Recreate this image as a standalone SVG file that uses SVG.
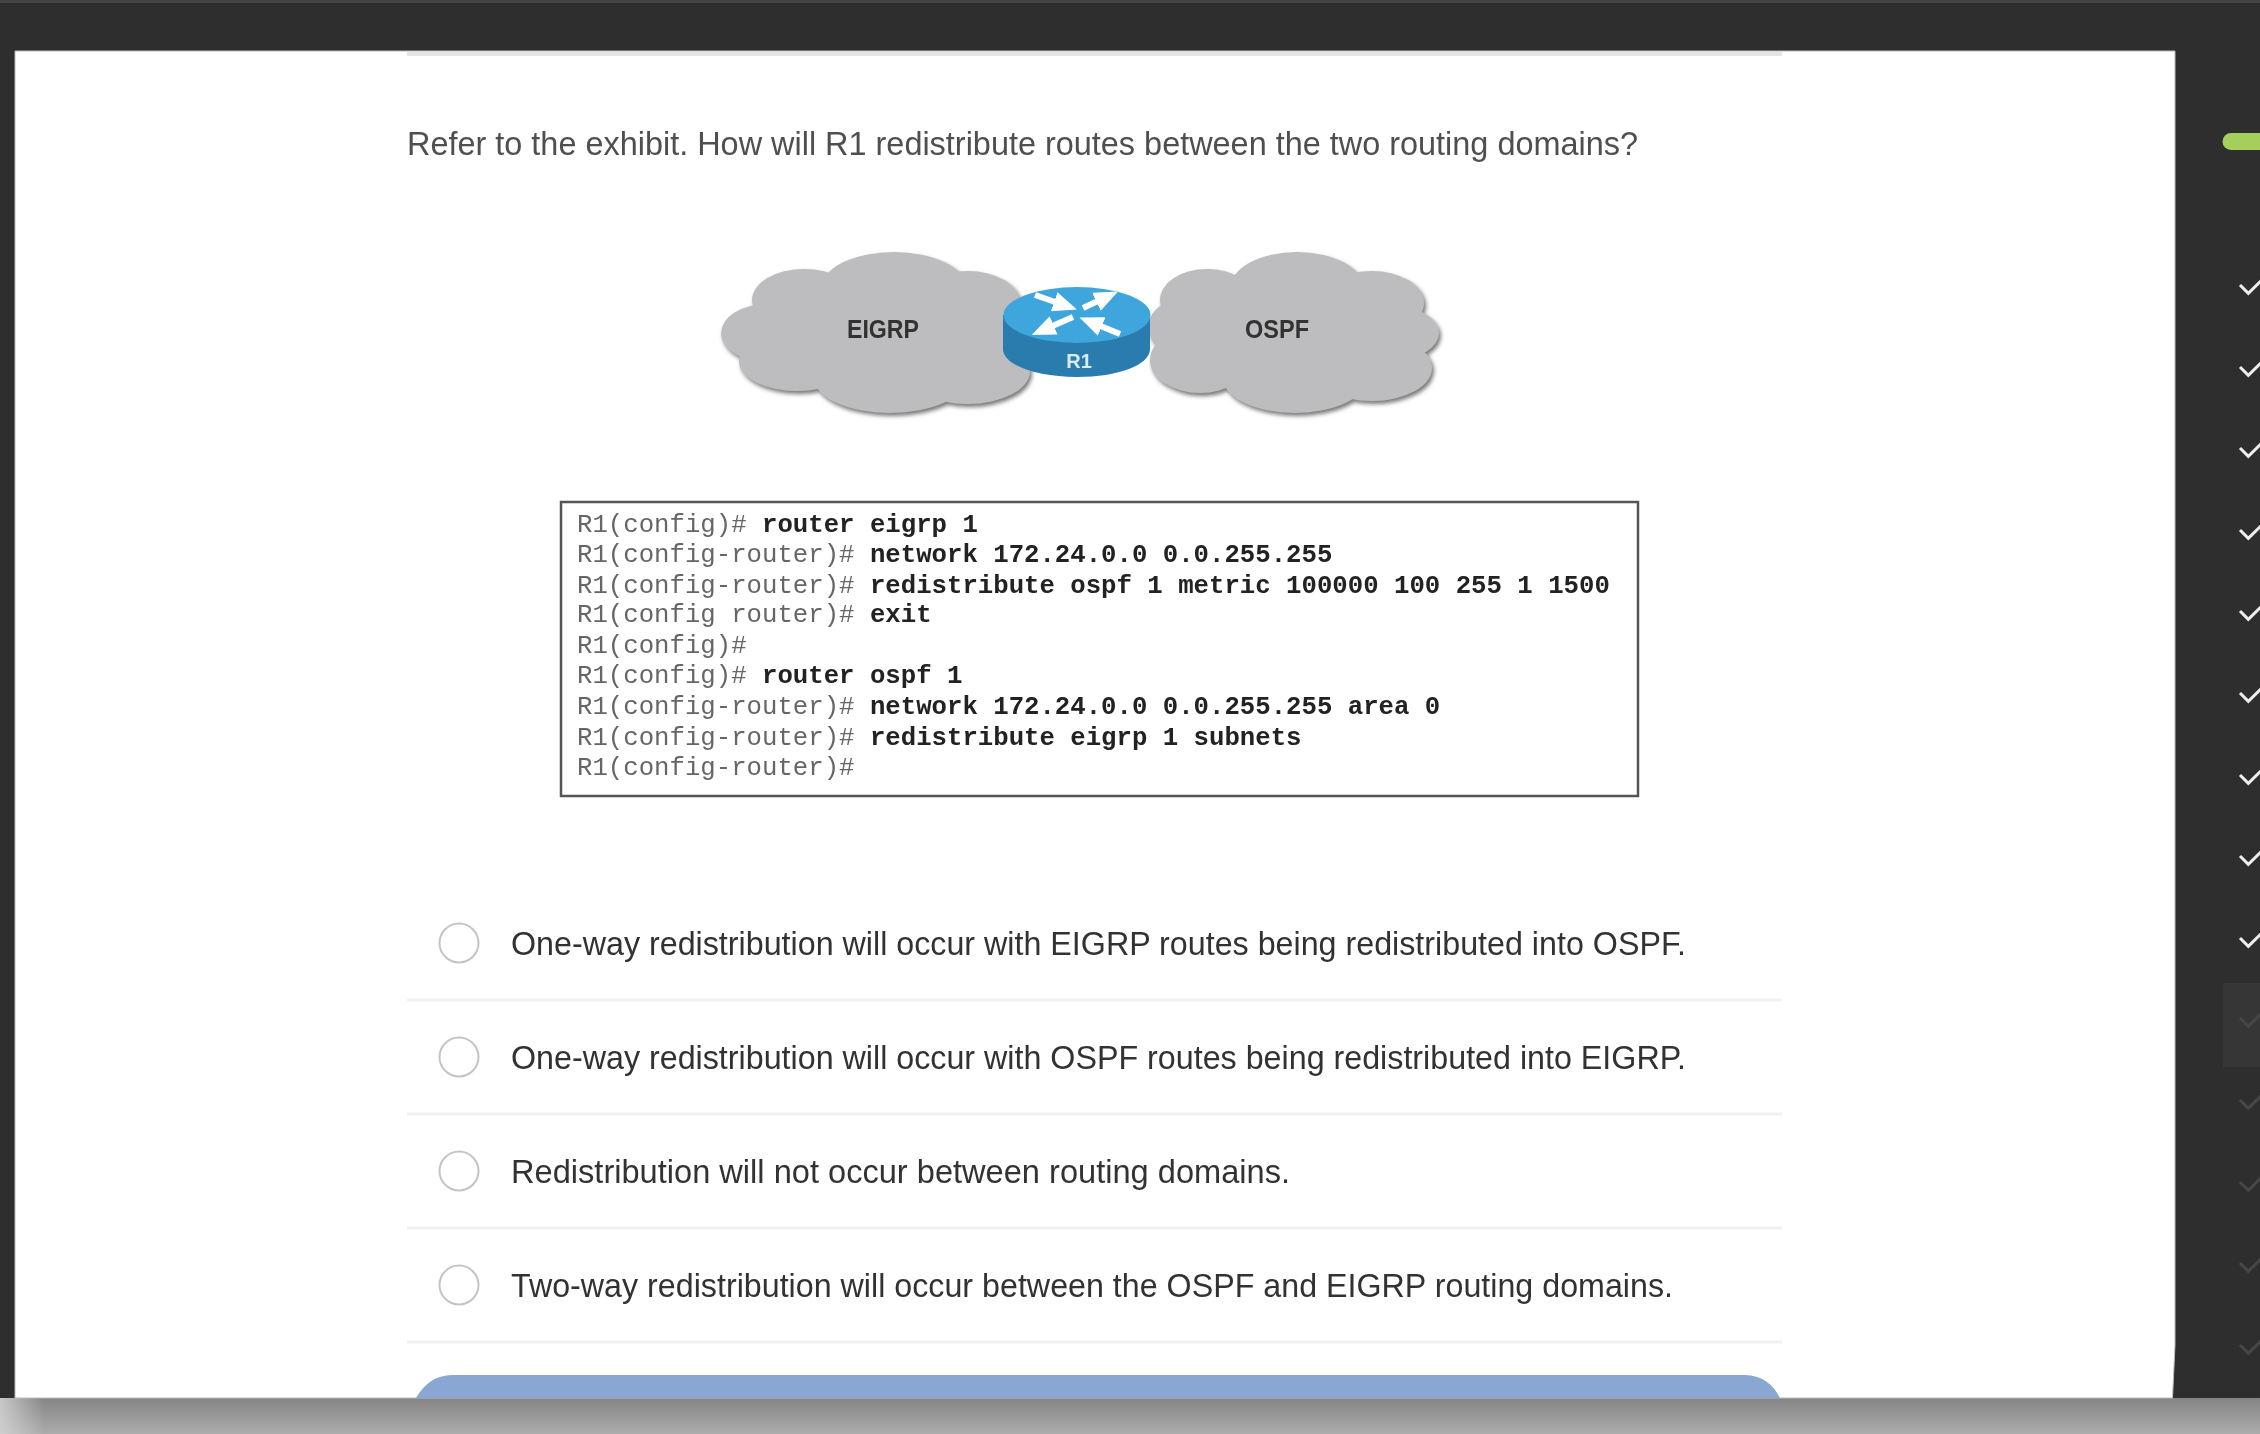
<svg xmlns="http://www.w3.org/2000/svg" width="2260" height="1434" viewBox="0 0 2260 1434">
<style>
.q{font-family:"Liberation Sans",Arial,sans-serif;font-size:32.500px;fill:#4f4f4f}
.a{font-family:"Liberation Sans",Arial,sans-serif;font-size:32.500px;fill:#333}
.c{font-family:"Liberation Mono","Courier New",monospace;font-size:25.700px;fill:#666}
.c tspan{font-weight:bold;fill:#222}
.n{font-family:"Liberation Sans",Arial,sans-serif;font-size:26px;font-weight:bold;fill:#333;text-anchor:middle}
.radio{fill:#fff;stroke:#c4c4c4;stroke-width:2}
.div{stroke:#f1f1f1;stroke-width:3}
.chk{fill:none;stroke:#eee;stroke-width:3}
.dim{fill:none;stroke:#474747;stroke-width:3}
.arr{fill:none;stroke:#fff;stroke-width:6;marker-end:url(#head)}
</style>
<defs>
<linearGradient id="band" x1="0" y1="0" x2="0" y2="1"><stop offset="0" stop-color="#858585"/><stop offset="1" stop-color="#acacac"/></linearGradient>
<linearGradient id="fade" x1="0" y1="0" x2="1" y2="0"><stop offset="0" stop-color="#d8d8d8" stop-opacity=".8"/><stop offset="1" stop-color="#d8d8d8" stop-opacity="0"/></linearGradient>
<filter id="soft" x="-5%" y="-5%" width="110%" height="110%"><feGaussianBlur stdDeviation="0.7"/></filter>
<filter id="shadow" x="-10%" y="-10%" width="120%" height="125%"><feDropShadow dx="2" dy="3" stdDeviation="2" flood-color="#777"/></filter>
<marker id="head" markerUnits="userSpaceOnUse" markerWidth="24" markerHeight="20" refX="4" refY="10" orient="auto"><path d="M0 0L24 10L0 20z" fill="#fff"/></marker>
<path id="tick" d="M2240 285L2248.300 293.300L2262 280"/>
</defs>
<rect width="2260" height="1434" fill="#2e2e2e"/>
<rect width="2260" height="3" fill="#444"/>
<rect y="1398" width="2260" height="36" fill="url(#band)"/>
<rect y="1398" width="44" height="36" fill="url(#fade)"/>
<path d="M15 51H2175V1345L2172.500 1398H15z" fill="#fff" stroke="#bbb" stroke-width="1"/>
<rect x="407" y="52" width="1375" height="4" fill="#e4e4e4"/>
<text id="question" class="q" x="407" y="155" textLength="1231" lengthAdjust="spacingAndGlyphs" filter="url(#soft)">Refer to the exhibit. How will R1 redistribute routes between the two routing domains?</text>
<g id="cloud-eigrp">
<g fill="#bdbcbe" filter="url(#shadow)">
<ellipse cx="894" cy="287" rx="72" ry="35"/><ellipse cx="804" cy="300" rx="52" ry="31"/><ellipse cx="968" cy="303" rx="52" ry="32"/><ellipse cx="767" cy="333" rx="46" ry="29"/><ellipse cx="797" cy="361" rx="58" ry="30"/><ellipse cx="890" cy="378" rx="76" ry="35"/><ellipse cx="968" cy="371" rx="62" ry="33"/><ellipse cx="990" cy="335" rx="30" ry="40"/><rect x="790" y="290" width="200" height="90"/>
</g>
<text class="n" x="883" y="338" textLength="72" lengthAdjust="spacingAndGlyphs" filter="url(#soft)">EIGRP</text>
</g>
<g id="cloud-ospf">
<g fill="#bdbcbe" filter="url(#shadow)">
<ellipse cx="1297" cy="287" rx="66" ry="35"/><ellipse cx="1207" cy="300" rx="47" ry="31"/><ellipse cx="1372" cy="303" rx="52" ry="32"/><ellipse cx="1394" cy="333" rx="45" ry="27"/><ellipse cx="1372" cy="368" rx="60" ry="33"/><ellipse cx="1295" cy="378" rx="72" ry="35"/><ellipse cx="1200" cy="360" rx="50" ry="33"/><ellipse cx="1198" cy="327" rx="50" ry="32"/><rect x="1190" y="290" width="200" height="90"/>
</g>
<text class="n" x="1277" y="338" textLength="64" lengthAdjust="spacingAndGlyphs" filter="url(#soft)">OSPF</text>
</g>
<g id="router-r1">
<path d="M1003 315V349C1003 365 1036 377 1077 377S1150 365 1150 349V315z" fill="#2a7cae"/>
<ellipse cx="1077" cy="315" rx="73.500" ry="28" fill="#3ea6dc"/>
<path class="arr" d="M1035 295L1058 303"/>
<path class="arr" d="M1083 308L1100 300"/>
<path class="arr" d="M1073 317L1050 327"/>
<path class="arr" d="M1120 334L1098 325"/>
<text x="1079" y="368" text-anchor="middle" font-family="Liberation Sans, Arial, sans-serif" font-size="20" font-weight="bold" fill="#d8ecf7" filter="url(#soft)">R1</text>
</g>
<g id="config">
<rect x="561" y="502" width="1077" height="294" fill="#fff" stroke="#555" stroke-width="2.500"/>
<g filter="url(#soft)" xml:space="preserve">
<text class="c" x="577" y="532">R1(config)# <tspan>router eigrp 1</tspan></text>
<text class="c" x="577" y="562">R1(config-router)# <tspan>network 172.24.0.0 0.0.255.255</tspan></text>
<text class="c" x="577" y="593">R1(config-router)# <tspan>redistribute ospf 1 metric 100000 100 255 1 1500</tspan></text>
<text class="c" x="577" y="622">R1(config router)# <tspan>exit</tspan></text>
<text class="c" x="577" y="653">R1(config)#</text>
<text class="c" x="577" y="683">R1(config)# <tspan>router ospf 1</tspan></text>
<text class="c" x="577" y="714">R1(config-router)# <tspan>network 172.24.0.0 0.0.255.255 area 0</tspan></text>
<text class="c" x="577" y="745">R1(config-router)# <tspan>redistribute eigrp 1 subnets</tspan></text>
<text class="c" x="577" y="775">R1(config-router)#</text>
</g>
</g>
<g id="answers">
<path class="div" d="M407 1000H1782M407 1114H1782M407 1228H1782M407 1342H1782"/>
<circle class="radio" cx="459" cy="943" r="19.500"/><circle class="radio" cx="459" cy="1057" r="19.500"/><circle class="radio" cx="459" cy="1171" r="19.500"/><circle class="radio" cx="459" cy="1285" r="19.500"/>
<g filter="url(#soft)">
<text class="a" x="511" y="955" textLength="1175" lengthAdjust="spacingAndGlyphs">One-way redistribution will occur with EIGRP routes being redistributed into OSPF.</text>
<text class="a" x="511" y="1069" textLength="1175" lengthAdjust="spacingAndGlyphs">One-way redistribution will occur with OSPF routes being redistributed into EIGRP.</text>
<text class="a" x="511" y="1183" textLength="779" lengthAdjust="spacingAndGlyphs">Redistribution will not occur between routing domains.</text>
<text class="a" x="511" y="1297" textLength="1162" lengthAdjust="spacingAndGlyphs">Two-way redistribution will occur between the OSPF and EIGRP routing domains.</text>
</g>
<path d="M416 1398C424 1384 436 1375 452 1375H1745C1761 1375 1773 1384 1780 1398z" fill="#8aa6d2"/>
</g>
<g id="sidebar">
<path d="M2260 133H2231A8.500 8.500 0 0 0 2231 150H2260z" fill="#a4cf5a"/>
<rect x="2223" y="983" width="37" height="84" fill="#363636"/>
<g class="chk">
<use href="#tick"/><use href="#tick" y="82"/><use href="#tick" y="163"/><use href="#tick" y="245"/><use href="#tick" y="326"/><use href="#tick" y="408"/><use href="#tick" y="490"/><use href="#tick" y="571"/><use href="#tick" y="653"/>
</g>
<g class="dim">
<use href="#tick" y="733"/><use href="#tick" y="815"/><use href="#tick" y="897"/><use href="#tick" y="978"/><use href="#tick" y="1060"/>
</g>
</g>
</svg>
